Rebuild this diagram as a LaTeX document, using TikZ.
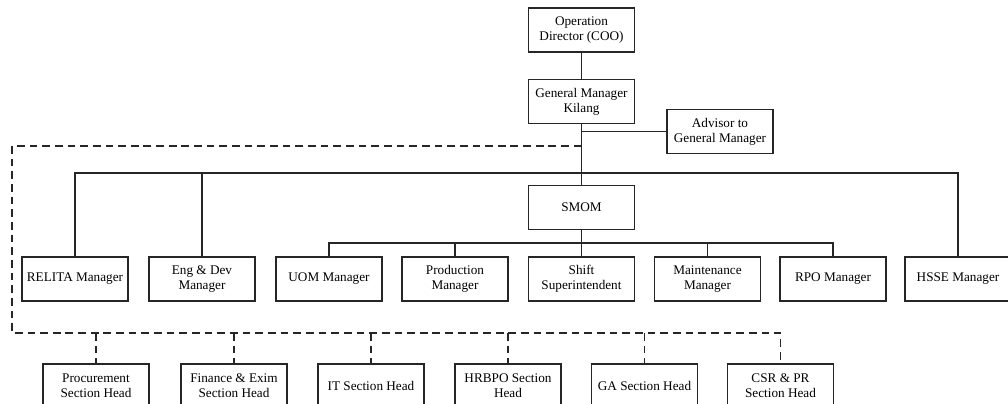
\documentclass[tikz,border=0pt]{standalone}
\usepackage{fontspec}
\setmainfont{Liberation Serif}

\begin{document}
\begin{tikzpicture}[x=0.025cm, y=-0.025cm,
    box/.style={draw=black!85, line width=1pt, minimum width=2.65cm, minimum height=1.1cm,
      inner sep=0pt, align=center, font=\fontsize{9.4}{10.7}\selectfont},
    link/.style={draw=black!85, line width=1.1pt},
    dotted link/.style={draw=black!85, line width=1.2pt, dash pattern=on 5.5pt off 3.5pt}]
      \useasboundingbox (0,0) rectangle (1008,403);
      \clip (0,0) rectangle (1008,403);

      \node[box] (coo) at (581.5, 30) {Operation\\Director (COO)};
      \node[box] (gm) at (581.5, 101.5) {General Manager\\Kilang};
      \node[box] (adv) at (720, 131.5) {Advisor to\\General Manager};
      \node[box] (smom) at (581.5, 207.5) {SMOM};

      \node[box] (relita) at (75, 279) {RELITA Manager};
      \node[box] (engdev) at (202, 279) {Eng \& Dev\\Manager};
      \node[box] (uom) at (329, 279) {UOM Manager};
      \node[box] (prod) at (455, 279) {Production\\Manager};
      \node[box] (shift) at (581.5, 279) {Shift\\Superintendent};
      \node[box] (maint) at (707.5, 279) {Maintenance\\Manager};
      \node[box] (rpo) at (833, 279) {RPO Manager};
      \node[box] (hsse) at (958, 279) {HSSE Manager};

      \node[box] (proc) at (96, 386) {Procurement\\Section Head};
      \node[box] (fin) at (234, 386) {Finance \& Exim\\Section Head};
      \node[box] (it) at (371, 386) {IT Section Head};
      \node[box] (hrbpo) at (508, 386) {HRBPO Section\\Head};
      \node[box] (ga) at (644.5, 386) {GA Section Head};
      \node[box] (csr) at (780.5, 386) {CSR \& PR\\Section Head};

      \coordinate (bus) at (0, 173);
      \coordinate (sub) at (0, 243);
      \coordinate (top) at (12, 146);
      \coordinate (bot) at (12, 333);

      % solid lines
      \draw[link] (coo) -- (gm);
      \draw[link] (gm.south) -- (smom.north);
      \draw[link] (adv.west) -- (adv.west -| gm.south);
      \draw[link] (relita.north) -- (relita.north |- bus) -- (hsse.north |- bus) -- (hsse.north);
      \draw[link] (engdev.north) -- (engdev.north |- bus);
      \draw[link] (smom.south) -- (shift.north);
      \draw[link] (uom.north) -- (uom.north |- sub) -- (rpo.north |- sub) -- (rpo.north);
      \draw[link] (prod.north) -- (prod.north |- sub);
      \draw[link] (maint.north) -- (maint.north |- sub);

      % dashed staff lines
      \draw[dotted link] (gm.south |- top) -- (top) -- (bot) -- (csr.north |- bot) -- (csr.north);
      \foreach \n in {proc, fin, it, hrbpo, ga}
        \draw[dotted link] (\n.north |- bot) -- (\n.north);
    \end{tikzpicture}
\end{document}
